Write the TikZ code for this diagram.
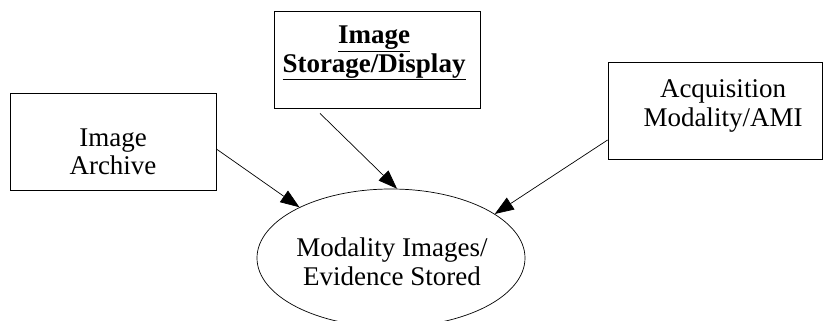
\documentclass[tikz,border=0pt]{standalone}
\usepackage{fontspec}
\setmainfont{Liberation Serif}
\usetikzlibrary{arrows.meta,shapes.geometric,calc}
\tikzset{
  BoxShape/.style={draw,line width=0.8pt,minimum width=206pt,minimum height=97pt,inner sep=0pt},
  BoxText/.style={align=center,font=\fontsize{27}{28.5}\selectfont,inner sep=0pt},
  FlowArrow/.style={line width=0.7pt,-{Triangle[length=19pt,width=14pt]}},
}
\newcommand{\BoldUnder}[1]{\underline{\textbf{#1}}}

\begin{document}
\begin{tikzpicture}[x=1pt,y=-1pt]
\useasboundingbox (0,0) rectangle (823,321);
\node[BoxShape] (archive) at (113,142) {};
\node[BoxShape] (storage) at (377,59.5) {};
\node[BoxShape,minimum width=214.5pt] (acq) at (715.25,110.5) {};
\node[draw,ellipse,line width=0.7pt,minimum width=268pt,minimum height=138pt,inner sep=0pt] (evid) at (391,258) {};
\node[BoxText] (archiveTxt) at (113,152) {Image\\Archive};
\node[BoxText] (storageTxt) at (374,53) {\BoldUnder{Image}\\\BoldUnder{Storage/Display}};
\node[BoxText] (acqTxt) at (723,106) {Acquisition\\Modality/AMI};
\node[BoxText] (evidTxt) at (392,262) {Modality Images/\\Evidence Stored};
\draw[FlowArrow] ($(archive.east)+(0,7)$) -- (evid.151);
\draw[FlowArrow] ($(storage.south)+(-57,5)$) -- (evid.85);
\draw[FlowArrow] ($(acq.west)+(0,29.5)$) -- (evid.23);
\end{tikzpicture}
\end{document}
